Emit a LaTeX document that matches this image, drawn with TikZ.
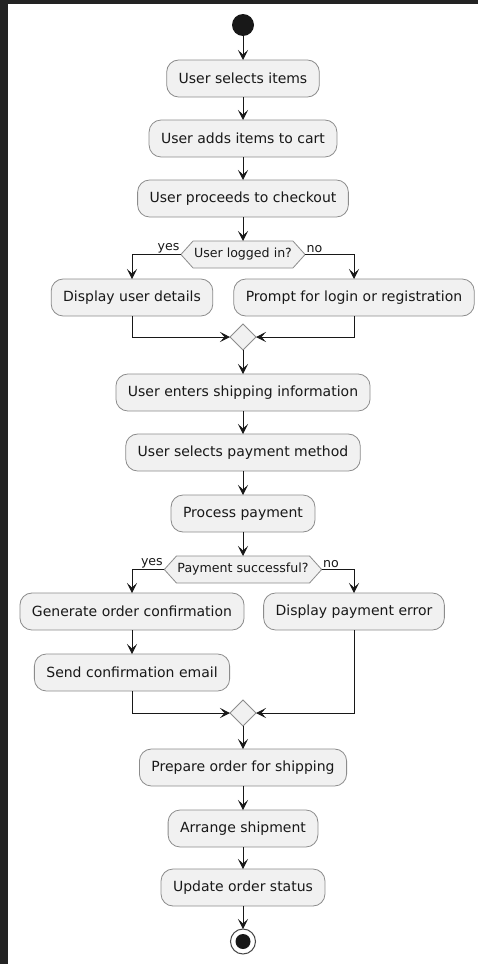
\documentclass[tikz,border=0pt]{standalone}
\usepackage{fontspec}
\setmainfont{DejaVu Sans}
\usetikzlibrary{arrows.meta, positioning, shapes.geometric, shapes.symbols}
\definecolor{ink}{HTML}{181818}
\definecolor{boxfill}{HTML}{F1F1F1}
\definecolor{boxline}{HTML}{8C8C8C}
\definecolor{frame}{HTML}{232323}
\tikzset{
  act/.style={draw=boxline, line width=0.8pt, rounded corners=12pt, fill=boxfill,
              minimum height=37pt, inner xsep=12pt, inner ysep=0pt, outer sep=0pt, text=ink,
              font=\fontsize{14}{16}\selectfont},
  cond/.style={signal, signal to=east and west, signal pointer angle=96,
               draw=boxline, line width=0.8pt, fill=boxfill, minimum height=27pt,
               inner xsep=1pt, inner ysep=0pt, outer sep=0pt, text=ink, font=\fontsize{12.6}{14}\selectfont},
  merge/.style={diamond, draw=boxline, line width=0.8pt, fill=boxfill,
                minimum width=26pt, minimum height=26pt, inner sep=0pt, outer sep=0pt},
  startdot/.style={circle, fill=ink, minimum size=22pt, inner sep=0pt, outer sep=0pt},
  enddot/.style={circle, draw=ink!80, line width=1pt, fill=white, minimum size=25pt, inner sep=0pt,
                 outer sep=0pt, path picture={\fill[ink] (path picture bounding box.center) circle (7.5pt);}},
  flow/.style={-{Stealth[length=10pt, width=10pt, inset=4.5pt]}, line width=1pt, ink},
  branch/.style={font=\fontsize{12.6}{14}\selectfont, text=ink, inner sep=1pt},
}

\begin{document}
\begin{tikzpicture}[x=1pt, y=-1pt, node distance=23pt]
  % ---- frame ----
  \fill[frame] (0,0) rectangle (478,964);
  \fill[white] (8,4) rectangle (478,964);

  % ---- checkout ----
  \node[startdot] (start) at (243,25) {};
  \node[act, below=24pt of start] (select) {User selects items};
  \node[act, below=of select] (addcart) {User adds items to cart};
  \node[act, below=of addcart] (checkout) {User proceeds to checkout};
  \node[cond, below=24pt of checkout] (logged) {User logged in?};
  \node[act, below=11pt of logged, xshift=-111pt] (details) {Display user details};
  \node[act, below=11pt of logged, xshift=111pt] (prompt) {Prompt for login or registration};
  \node[merge, below=56pt of logged] (join1) {};

  % ---- payment ----
  \node[act, below=24pt of join1] (shipinfo) {User enters shipping information};
  \node[act, below=of shipinfo] (paymethod) {User selects payment method};
  \node[act, below=24pt of paymethod] (process) {Process payment};
  \node[cond, below=24pt of process] (paid) {Payment successful?};
  \node[act, below=10pt of paid, xshift=-111pt] (confirm) {Generate order confirmation};
  \node[act, below=10pt of paid, xshift=111pt] (payerr) {Display payment error};
  \node[act, below=24pt of confirm] (email) {Send confirmation email};
  \node[merge, below=117pt of paid] (join2) {};

  % ---- shipping ----
  \node[act, below=of join2] (prepare) {Prepare order for shipping};
  \node[act, below=24pt of prepare] (arrange) {Arrange shipment};
  \node[act, below=22pt of arrange] (status) {Update order status};
  \node[enddot, below=23pt of status] (stop) {};

  % ---- edges ----
  \draw[flow] (start) -- (select);
  \draw[flow] (select) -- (addcart);
  \draw[flow] (addcart) -- (checkout);
  \draw[flow] (checkout) -- (logged);
  \draw[flow] (logged.west) node[branch, above left] {yes} -| (details.north);
  \draw[flow] (logged.east) node[branch, above right] {no} -| (prompt.north);
  \draw[flow] (details.south) |- (join1.west);
  \draw[flow] (prompt.south) |- (join1.east);
  \draw[flow] (join1) -- (shipinfo);
  \draw[flow] (shipinfo) -- (paymethod);
  \draw[flow] (paymethod) -- (process);
  \draw[flow] (process) -- (paid);
  \draw[flow] (paid.west) node[branch, above left] {yes} -| (confirm.north);
  \draw[flow] (paid.east) node[branch, above right] {no} -| (payerr.north);
  \draw[flow] (confirm) -- (email);
  \draw[flow] (email.south) |- (join2.west);
  \draw[flow] (payerr.south) |- (join2.east);
  \draw[flow] (join2) -- (prepare);
  \draw[flow] (prepare) -- (arrange);
  \draw[flow] (arrange) -- (status);
  \draw[flow] (status) -- (stop);
\end{tikzpicture}
\end{document}
